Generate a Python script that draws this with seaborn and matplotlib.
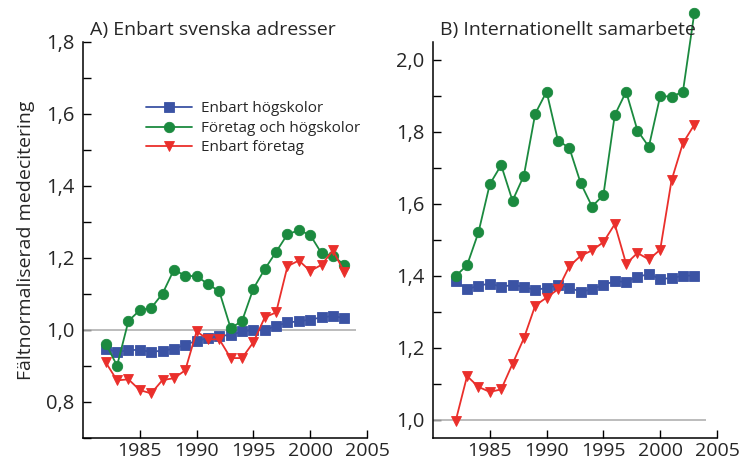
import matplotlib
matplotlib.use("Agg")
import matplotlib.pyplot as plt
from matplotlib.ticker import MultipleLocator, FuncFormatter
import seaborn as sns
import pandas as pd

years = list(range(1982, 2004))

# A) Enbart svenska adresser
a_hogskolor = [0.948, 0.939, 0.944, 0.945, 0.939, 0.943, 0.948, 0.959, 0.970, 0.977, 0.984,
               0.986, 0.996, 1.000, 1.000, 1.011, 1.021, 1.024, 1.029, 1.035, 1.039, 1.033]
a_foretag_hogskolor = [0.962, 0.901, 1.025, 1.055, 1.061, 1.101, 1.167, 1.151, 1.149, 1.128, 1.107,
                       1.005, 1.025, 1.115, 1.169, 1.217, 1.266, 1.277, 1.264, 1.213, 1.206, 1.181]
a_foretag = [0.910, 0.860, 0.863, 0.833, 0.824, 0.861, 0.866, 0.888, 0.996, 0.974, 0.974,
             0.922, 0.922, 0.966, 1.035, 1.049, 1.177, 1.193, 1.164, 1.181, 1.221, 1.161]

# B) Internationellt samarbete
b_hogskolor = [1.386, 1.363, 1.373, 1.379, 1.370, 1.375, 1.370, 1.361, 1.367, 1.374, 1.368,
               1.356, 1.363, 1.376, 1.385, 1.384, 1.398, 1.405, 1.392, 1.394, 1.401, 1.401]
b_foretag_hogskolor = [1.400, 1.430, 1.521, 1.655, 1.708, 1.609, 1.679, 1.851, 1.912, 1.776, 1.756,
                       1.658, 1.593, 1.625, 1.847, 1.912, 1.804, 1.759, 1.900, 1.898, 1.912, 2.130]
b_foretag = [0.998, 1.122, 1.092, 1.078, 1.085, 1.156, 1.227, 1.318, 1.340, 1.363, 1.427,
             1.456, 1.471, 1.494, 1.544, 1.434, 1.464, 1.446, 1.473, 1.666, 1.769, 1.820]

labels = ["Enbart högskolor", "Företag och högskolor", "Enbart företag"]
colors = ["#3b53a4", "#1b8a3f", "#ea2f2b"]
markers = ["s", "o", "v"]

sns.set_theme(style="ticks")
plt.rcParams["font.family"] = ["Open Sans", "DejaVu Sans"]

fig = plt.figure(figsize=(7.4, 4.7), dpi=100)
ax_a = fig.add_axes([83 / 740, 32 / 470, 284 / 740, 396 / 470])
ax_b = fig.add_axes([433 / 740, 32 / 470, 284 / 740, 396 / 470])

comma = FuncFormatter(lambda v, p: f"{v:.1f}".replace(".", ","))


def draw(ax, series, ylim, title, legend=False):
    df = pd.DataFrame({"År": years * 3,
                       "Värde": series[0] + series[1] + series[2],
                       "Grupp": sum([[l] * len(years) for l in labels], [])})
    ax.hlines(1.0, 1980, 2004, color="#b0b0b0", lw=1.2, zorder=1)
    for lab, col, mk in zip(labels, colors, markers):
        sns.lineplot(data=df[df["Grupp"] == lab], x="År", y="Värde", ax=ax,
                     color=col, marker=mk, markersize=7.5, markeredgewidth=0.6,
                     markeredgecolor=col, lw=1.3, label=lab, legend=legend,
                     clip_on=False, zorder=3)
    ax.set_xlim(1980, 2005)
    ax.set_ylim(*ylim)
    ax.set_xticks([1985, 1990, 1995, 2000, 2005])
    ax.yaxis.set_major_locator(MultipleLocator(0.2))
    ax.yaxis.set_minor_locator(MultipleLocator(0.1))
    ax.yaxis.set_major_formatter(comma)
    ax.tick_params(axis="both", which="both", direction="in", length=6, width=1,
                   color="black", labelsize=14.5, pad=6)
    ax.tick_params(axis="x", pad=3, labelsize=14)
    for s in ["top", "right"]:
        ax.spines[s].set_visible(False)
    for s in ["left", "bottom"]:
        ax.spines[s].set_color("black")
        ax.spines[s].set_linewidth(1.1)
    ax.set_xlabel("")
    ax.set_ylabel("")
    ax.text(0.025, 1.018, title, transform=ax.transAxes, fontsize=14,
            ha="left", va="baseline")


draw(ax_a, [a_hogskolor, a_foretag_hogskolor, a_foretag], (0.7, 1.8),
     "A) Enbart svenska adresser", legend=True)
draw(ax_b, [b_hogskolor, b_foretag_hogskolor, b_foretag], (0.95, 2.05),
     "B) Internationellt samarbete")

ax_a.set_ylabel("Fältnormaliserad medecitering", fontsize=14, labelpad=8)
ax_a.legend(loc="upper left", bbox_to_anchor=(0.175, 0.885), frameon=False,
            fontsize=11, handlelength=3.0, handletextpad=0.6, labelspacing=0.3)

fig.savefig("out.png", dpi=100)
